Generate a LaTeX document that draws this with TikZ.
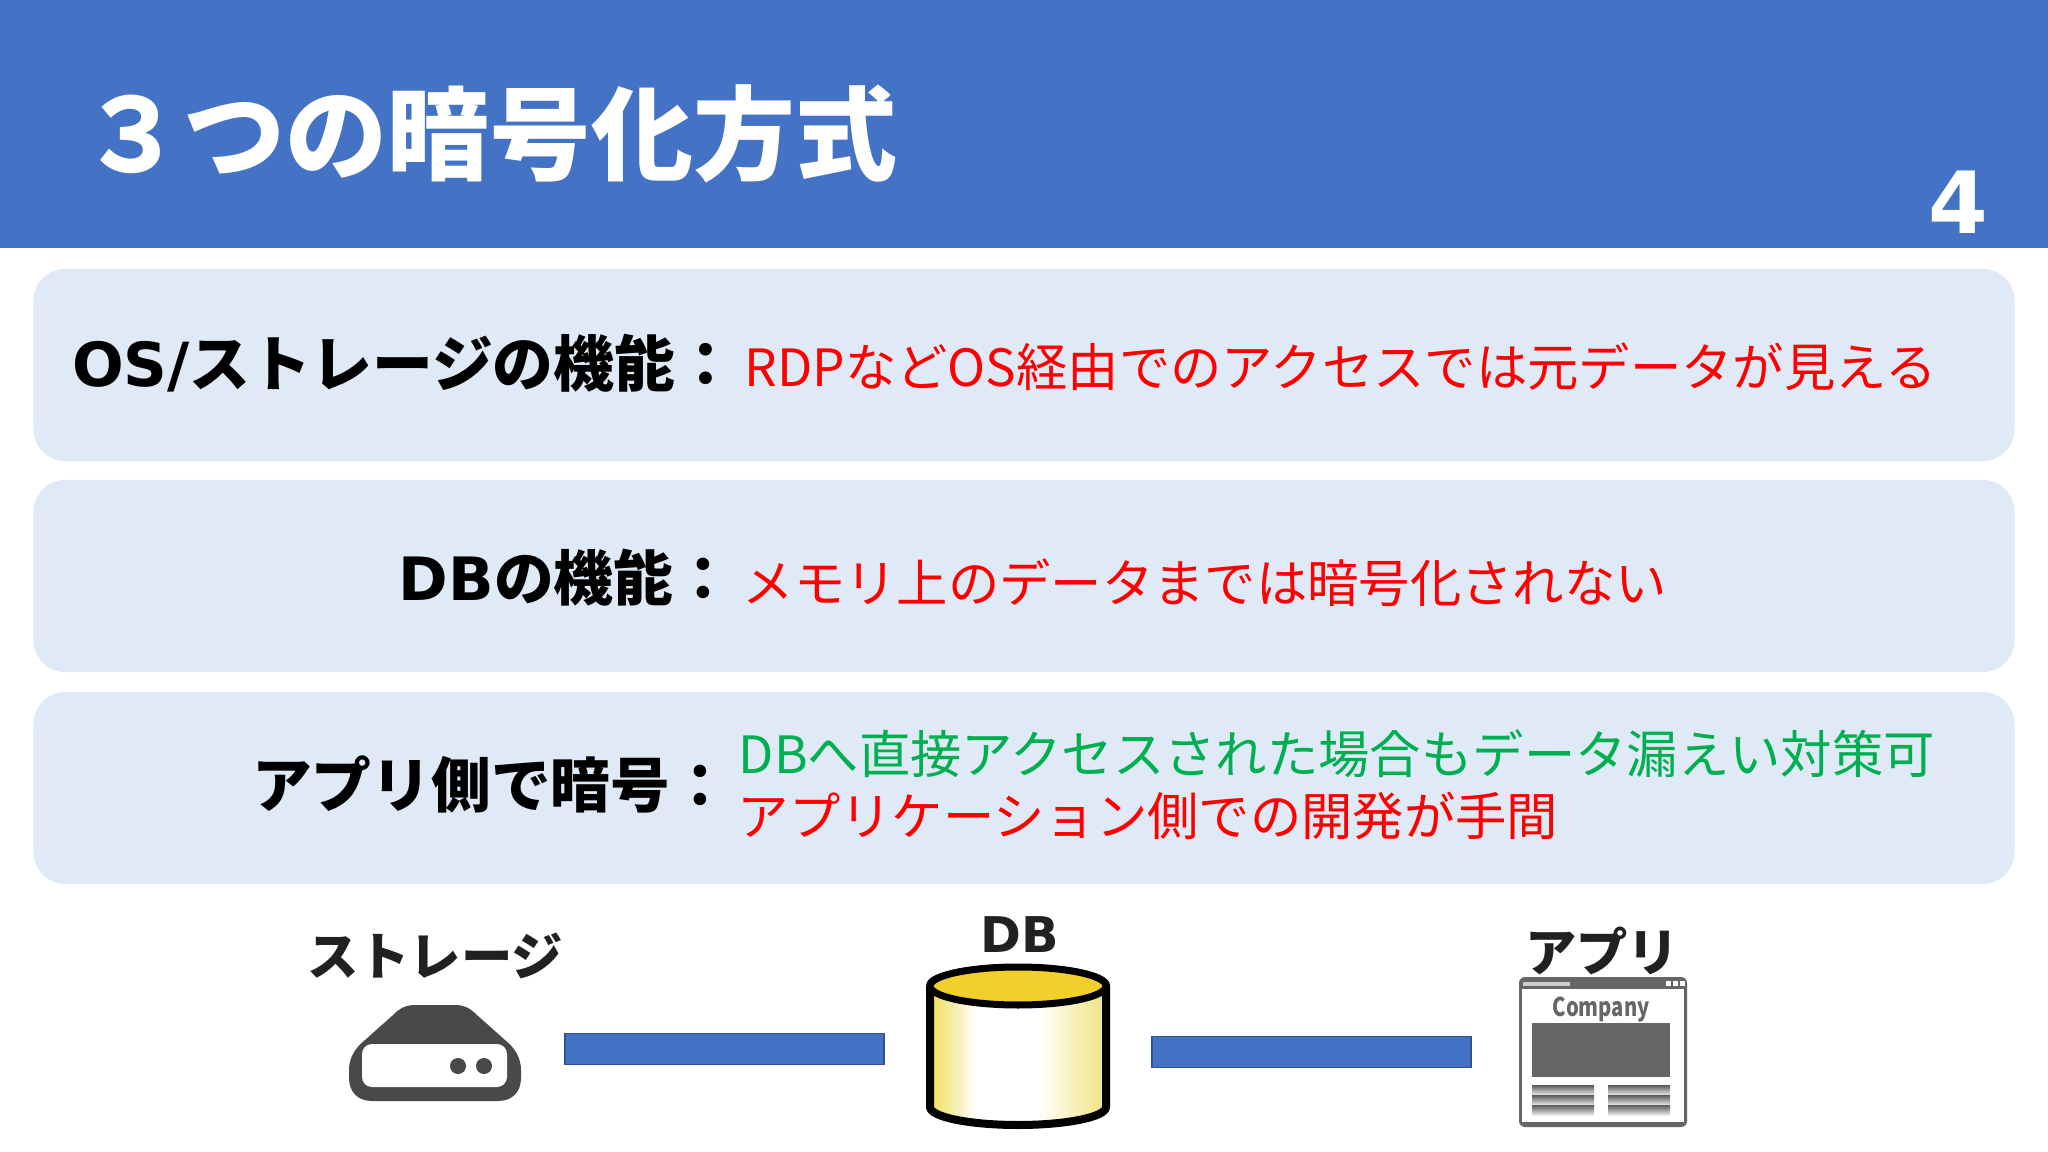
\documentclass[tikz,border=0pt]{standalone}
\usepackage{fontspec}
\setmainfont{Noto Sans CJK JP}
\newfontfamily\wide{DejaVu Sans}
\usepackage{tikz}
\definecolor{barblue}{HTML}{4472C4}
\definecolor{barline}{HTML}{2F528F}
\definecolor{panelblue}{HTML}{DFEAF6}
\definecolor{okgreen}{HTML}{00B050}
\definecolor{iconstorage}{HTML}{4A484B}
\definecolor{iconpage}{HTML}{666567}
\definecolor{dbgold}{HTML}{F2CF2A}
\definecolor{dbleft}{HTML}{F2DC55}
\definecolor{dbmid}{HTML}{F6EDB0}
\definecolor{dbright}{HTML}{F1E27F}
\pgfdeclarehorizontalshading{dbside}{100bp}{color(0bp)=(dbleft); color(25bp)=(dbleft); color(32bp)=(dbmid); color(38bp)=(white); color(56bp)=(white); color(75bp)=(dbright); color(100bp)=(dbright)}
\begin{document}
\begin{tikzpicture}[x=0.01cm,y=-0.01cm]
					\tikzstyle{panel}=[fill=panelblue,rounded corners=0.32cm,minimum width=19.8cm,minimum height=1.92cm,inner sep=0]
					\tikzstyle{head}=[anchor=east,inner sep=0,font=\fontsize{17}{20}\selectfont\bfseries]
					\tikzstyle{note}=[anchor=west,inner sep=0,text=red,font=\fontsize{14.6}{18}\selectfont]
					\tikzstyle{tag}=[inner sep=0,text=black!87,font=\fontsize{14.6}{18}\selectfont\bfseries]
					\tikzstyle{link}=[fill=barblue,draw=barline,line width=0.4pt,minimum width=3.19cm,minimum height=0.31cm,inner sep=0]
					\useasboundingbox (0,0) rectangle (2048,1152);
					\fill[white] (0,0) rectangle (2048,1152);
					\node[fill=barblue,minimum width=20.48cm,minimum height=2.48cm,inner sep=0](top) at (1024,124) {};
					\node[anchor=west,inner sep=0,text=white,font=\fontsize{29}{36}\selectfont\bfseries](title) at (81,134) {３つの暗号化方式};
					\node[inner sep=0,text=white,font=\fontsize{24.4}{28}\selectfont\bfseries\wide](page) at (1958,202) {4};
					\node[panel](p1) at (1024,365) {};
					\node[panel](p2) at (1024,576) {};
					\node[panel](p3) at (1024,788) {};
					\node[head,font=\fontsize{17.3}{20}\selectfont\bfseries](h1) at (737,363) {{\wide OS/}ストレージの機能：};
					\node[head](h2) at (734,578) {{\wide DB}の機能：};
					\node[head](h3) at (731,784) {アプリ側で暗号：};
					\node[note](n1) at (744,367) {RDPなどOS経由でのアクセスでは元データが見える};
					\node[note](n2) at (742,583) {メモリ上のデータまでは暗号化されない};
					\node[note,text=okgreen](n3) at (738,754) {DBへ直接アクセスされた場合もデータ漏えい対策可};
					\node[note](n4) at (737,816) {アプリケーション側での開発が手間};
					\node[tag](t1) at (435,956) {ストレージ};
					\node[tag,font=\fontsize{14}{18}\selectfont\bfseries\wide](t2) at (1020,935) {DB};
					\node[tag](t3) at (1602,951) {アプリ};
					\node[link](l1) at (724.5,1049) {};
					\node[link](l2) at (1311.5,1052) {};
					% storage
					\fill[iconstorage] (415,1005) -- (455,1005) .. controls (466,1005) and (472,1010) .. (478,1016) -- (505,1040) .. controls (515,1048) and (521,1058) .. (521,1070) -- (521,1078) .. controls (521,1092) and (512,1101) .. (498,1101) -- (372,1101) .. controls (358,1101) and (349,1092) .. (349,1078) -- (349,1070) .. controls (349,1058) and (355,1048) .. (365,1040) -- (392,1016) .. controls (398,1010) and (404,1005) .. (415,1005) -- cycle;
					\fill[white,rounded corners=0.1cm] (362,1044) rectangle (507,1087);
					\fill[iconstorage] (458,1066) circle (8);
					\fill[iconstorage] (484,1066) circle (8);
					% db
					\draw[line width=0.8mm,line join=round,shading=dbside] (930,986) -- (930,1107) arc[start angle=180,end angle=0,x radius=88,y radius=18] -- (1106,986) arc[start angle=0,end angle=-180,x radius=88,y radius=18];
					\draw[line width=0.7mm,fill=dbgold] (1018,986) ellipse[x radius=88,y radius=19];
					% page
					\fill[iconpage,rounded corners=0.06cm] (1519,977) rectangle (1687,1127);
					\fill[white] (1522,989) rectangle (1684,1122);
					\fill[black!20] (1523,982) rectangle (1570,986);
					\foreach \px in {1666,1673,1680} \fill[white] (\px,981) rectangle ++(5,5);
					\node[inner sep=0,text=iconpage,font=\fontsize{7}{8}\selectfont\bfseries](comp) at (1601,1010) {\scalebox{0.82}[1.05]{Company}};
					\fill[iconpage] (1532,1023) rectangle (1670,1077);
					\foreach \px in {1532,1608} \foreach \py in {1085,1095,1105} \fill[top color=black!65,bottom color=black!8] (\px,\py) rectangle ++(62,10);
\end{tikzpicture}
\end{document}
